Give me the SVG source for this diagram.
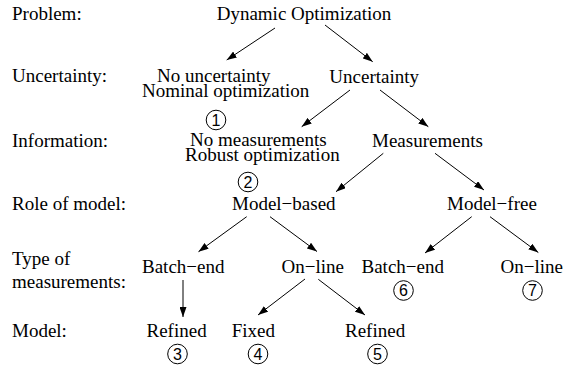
<svg xmlns="http://www.w3.org/2000/svg" width="577" height="367" viewBox="0 0 577 367">
  <style>
    .t { font-family: "Liberation Serif", "Times New Roman", serif; font-size: 19px; fill: #000; }
    .lbl { font-family: "Liberation Serif", "Times New Roman", serif; font-size: 19px; fill: #000; }
    .num circle { fill: none; stroke: #000; stroke-width: 1; }
    .num text { font-family: "Liberation Sans", Arial, sans-serif; font-size: 16px; fill: #000; text-anchor: middle; }
    .edges line { stroke: #000; stroke-width: 1; marker-end: url(#arrow); }
  </style>
  <defs>
    <marker id="arrow" markerUnits="userSpaceOnUse" markerWidth="11" markerHeight="7" refX="10" refY="3.5" orient="auto">
      <path d="M0,0 L10,3.5 L0,7 z" fill="#000"/>
    </marker>
  </defs>
  <rect width="577" height="367" fill="#fff"/>

  <!-- level captions on the left -->
  <g id="captions">
    <text class="lbl" x="12" y="20">Problem:</text>
    <text class="lbl" x="12" y="82">Uncertainty:</text>
    <text class="lbl" x="12" y="147">Information:</text>
    <text class="lbl" x="12" y="210">Role of model:</text>
    <text class="lbl" x="12" y="265">Type of</text>
    <text class="lbl" x="12" y="288">measurements:</text>
    <text class="lbl" x="12" y="337">Model:</text>
  </g>

  <!-- tree nodes -->
  <g id="n-root"><text class="t" x="216.7" y="20">Dynamic Optimization</text></g>
  <g id="n-nominal">
    <text class="t" x="157" y="82">No uncertainty</text>
    <text class="t" x="142" y="97">Nominal optimization</text>
    <g class="num"><circle cx="216" cy="120" r="9.8"/><text x="216" y="125.8">1</text></g>
  </g>
  <g id="n-uncertainty"><text class="t" x="329.3" y="83">Uncertainty</text></g>
  <g id="n-robust">
    <text class="t" x="190" y="146">No measurements</text>
    <text class="t" x="185" y="161">Robust optimization</text>
    <g class="num"><circle cx="248" cy="182" r="9.8"/><text x="248" y="187.8">2</text></g>
  </g>
  <g id="n-measurements"><text class="t" x="372" y="147">Measurements</text></g>
  <g id="n-model-based"><text class="t" x="232" y="210">Model−based</text></g>
  <g id="n-model-free"><text class="t" x="447" y="210">Model−free</text></g>
  <g id="n-mb-batch"><text class="t" x="142" y="273">Batch−end</text></g>
  <g id="n-mb-online"><text class="t" x="281.5" y="273">On−line</text></g>
  <g id="n-mf-batch">
    <text class="t" x="361.5" y="273">Batch−end</text>
    <g class="num"><circle cx="403.5" cy="290.5" r="9.8"/><text x="403.5" y="296.3">6</text></g>
  </g>
  <g id="n-mf-online">
    <text class="t" x="500.5" y="273">On−line</text>
    <g class="num"><circle cx="532.5" cy="290.5" r="9.8"/><text x="532.5" y="296.3">7</text></g>
  </g>
  <g id="n-batch-refined">
    <text class="t" x="146.5" y="337">Refined</text>
    <g class="num"><circle cx="177.5" cy="354" r="9.8"/><text x="177.5" y="359.8">3</text></g>
  </g>
  <g id="n-online-fixed">
    <text class="t" x="231.7" y="337">Fixed</text>
    <g class="num"><circle cx="258" cy="354" r="9.8"/><text x="258" y="359.8">4</text></g>
  </g>
  <g id="n-online-refined">
    <text class="t" x="345" y="337">Refined</text>
    <g class="num"><circle cx="377.5" cy="354" r="9.8"/><text x="377.5" y="359.8">5</text></g>
  </g>

  <!-- connectors -->
  <g id="edges" class="edges">
    <line x1="275" y1="28" x2="226.7" y2="60"/>
    <line x1="325" y1="25" x2="372.7" y2="61.7"/>
    <line x1="350" y1="90" x2="301.7" y2="126.7"/>
    <line x1="380" y1="90" x2="428.3" y2="126.7"/>
    <line x1="383.3" y1="153.3" x2="336" y2="191.7"/>
    <line x1="435" y1="153.3" x2="484" y2="190"/>
    <line x1="246.7" y1="216.7" x2="198.5" y2="251.7"/>
    <line x1="270" y1="216.7" x2="317" y2="251.5"/>
    <line x1="471.7" y1="216.7" x2="425" y2="253"/>
    <line x1="490" y1="216.7" x2="538.3" y2="252.5"/>
    <line x1="183" y1="280" x2="183" y2="317"/>
    <line x1="305" y1="279" x2="258" y2="315"/>
    <line x1="318.3" y1="279.3" x2="365" y2="315"/>
  </g>
</svg>
